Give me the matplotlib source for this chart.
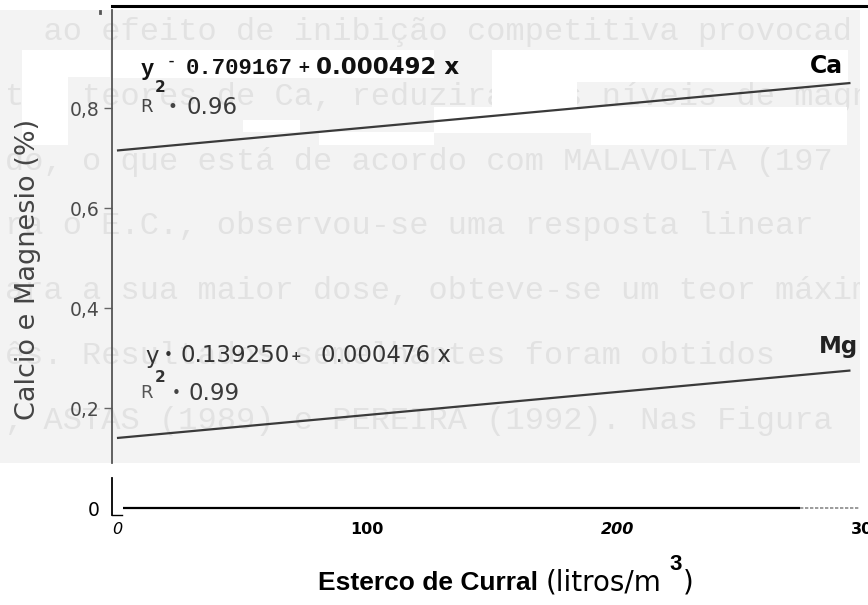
import matplotlib
matplotlib.use('Agg')
import matplotlib.pyplot as plt
from matplotlib.patches import Rectangle

# valores
dose = [0, 293]                     # esterco de curral (litros/m3)
teor_ca = [0.715, 0.85]             # calcio (%)
teor_mg = [0.14, 0.275]             # magnesio (%)
xticks = [0, 100, 200, 300]
xtick_labels = ['0', '100', '200', '300']
yticks = [0, 0.2, 0.4, 0.6, 0.8]
ytick_labels = ['0', '0,2', '0,4', '0,6', '0,8']
r2_ca = '0.96'
r2_mg = '0.99'

# texto do verso da pagina (aparece apagado no scan)
texto_fundo = [
    '  ao efeito de inibição competitiva provocad',
    'tos teores de Ca, reduziram os níveis de magné',
    'do, o que está de acordo com MALAVOLTA (197',
    'ra o E.C., observou-se uma resposta linear',
    'ara a sua maior dose, obteve-se um teor máxim',
    'ês. Resultados semelhantes foram obtidos',
    ', ASTAS (1989) e PEREIRA (1992). Nas Figura',
]

W, H = 868, 605


def fp(x, y):
    # pixel -> coordenadas da figura
    return x / W, 1 - y / H


fig = plt.figure(figsize=(W / 100, H / 100), dpi=100)

# fundo cinza do scan e remendos brancos
fig.add_artist(Rectangle(fp(0, 463), 860 / W, (463 - 10) / H, transform=fig.transFigure,
                         facecolor='#f3f3f3', edgecolor='none', zorder=-3))
for i, linha in enumerate(texto_fundo):
    fig.text(*fp(5, 32 + i * 64.8), linha, family='Liberation Mono', fontsize=23,
             color='#e2e2e2', va='center', ha='left', zorder=-2)
remendos = [(22, 50, 68, 145), (68, 50, 110, 77), (113, 50, 434, 78),
            (492, 50, 577, 107), (577, 50, 848, 82), (243, 120, 300, 132),
            (319, 132, 434, 145), (434, 107, 591, 133), (591, 107, 847, 145),
            (860, 10, 868, 463)]
for a, b, c, d in remendos:
    fig.add_artist(Rectangle(fp(a, d), (c - a) / W, (d - b) / H, transform=fig.transFigure,
                             facecolor='white', edgecolor='none', zorder=-1))

ax = fig.add_axes([112 / W, 1 - 515 / H, (W - 112) / W, (515 - 6) / H])
ax.patch.set_alpha(0)
ax.set_xlim(-1.98, 296.8)
ax.set_ylim(-0.014, 1.004)

ax.plot(dose, teor_ca, color='#3a3a3a', lw=1.6, solid_capstyle='butt')
ax.plot(dose, teor_mg, color='#3a3a3a', lw=1.6, solid_capstyle='butt')

# eixos
for s in ['right', 'bottom']:
    ax.spines[s].set_visible(False)
ax.spines['top'].set_color('black')
ax.spines['top'].set_linewidth(2.2)
ax.spines['left'].set_color('#555555')
ax.spines['left'].set_linewidth(1.3)
ax.spines['left'].set_bounds(0.09, 0.996)
ax.plot([0, 0], [0.06, -0.013], transform=ax.get_yaxis_transform(), color='black',
        lw=1.3, clip_on=False)
ax.plot([-1.98, 2.0], [-0.013, -0.013], color='black', lw=1.0, clip_on=False)
ax.hlines(0, 2.4, 273, color='black', lw=1.6)
ax.hlines(0, 273, 297, color='#8a8a8a', lw=1.2, linestyles=(0, (2, 1)))

ax.set_yticks(yticks)
ax.set_yticklabels(ytick_labels)
ax.tick_params(axis='y', length=6, width=1, color='#666666', pad=3,
               labelsize=13.5, labelcolor='#4a4a4a')
ax.yaxis.get_major_ticks()[0].tick1line.set_visible(False)
ax.get_yticklabels()[0].set_color('black')

ax.set_xticks(xticks)
ax.set_xticklabels(xtick_labels)
ax.tick_params(axis='x', length=0, pad=5, labelsize=11.5)
for i, lab in enumerate(ax.get_xticklabels()):
    lab.set_fontweight('normal' if i == 0 else 'bold')
    if i in (0, 2):
        lab.set_fontstyle('italic')

# equacao Ca
fig.text(*fp(141, 70), 'y', family='Liberation Mono', weight='bold', fontsize=16,
         va='center', color='#111111')
fig.text(*fp(167, 61), '-', family='Liberation Mono', weight='bold', fontsize=11,
         va='center', color='#111111')
fig.text(*fp(186, 68), '0.709167', family='Liberation Mono', weight='bold', fontsize=16,
         va='center', color='#111111')
fig.text(*fp(297, 68), '+', weight='bold', fontsize=11, va='center', color='#111111')
fig.text(*fp(316, 68), '0.000492 x', weight='bold', fontsize=16.5, va='center',
         color='#111111')
fig.text(*fp(140, 107), 'R', fontsize=13, va='center', color='#444444')
fig.text(*fp(155, 88), '2', weight='bold', fontsize=11, va='center', color='#222222')
fig.text(*fp(168, 107), '•', fontsize=12, va='center', color='#444444')
fig.text(*fp(186, 107), r2_ca, fontsize=16.5, va='center', color='#3a3a3a')
fig.text(*fp(810, 66), 'Ca', weight='bold', fontsize=17, va='center', color='black')

# equacao Mg
fig.text(*fp(145, 356), 'y', fontsize=16.5, va='center', color='#333333')
fig.text(*fp(164, 356), '•', fontsize=11, va='center', color='#333333')
fig.text(*fp(181, 356), '0.139250', fontsize=16.5, va='center', color='#333333')
fig.text(*fp(291, 356), '+', weight='bold', fontsize=9, va='center', color='#333333')
fig.text(*fp(321, 356), '0.000476 x', fontsize=16.5, va='center', color='#333333')
fig.text(*fp(140, 393), 'R', fontsize=13, va='center', color='#555555')
fig.text(*fp(155, 377), '2', weight='bold', fontsize=11, va='center', color='#333333')
fig.text(*fp(172, 393), '•', fontsize=11, va='center', color='#444444')
fig.text(*fp(189, 393), r2_mg, fontsize=16.5, va='center', color='#3a3a3a')
fig.text(*fp(819, 347), 'Mg', weight='bold', fontsize=16.5, va='center', color='#222222')

# rotulo do eixo y
fig.text(*fp(28, 269), 'Calcio e Magnesio (%)', rotation=90, fontsize=19.5,
         color='#444444', ha='center', va='center')

# rotulo do eixo x, montado em pedacos
renderer = fig.canvas.get_renderer()
partes = [('Esterco de Curral', 'Liberation Sans', 'bold', 19, 583, 8),
          ('(litros/m', 'DejaVu Sans', 'normal', 20, 583, 8),
          ('3', 'Liberation Sans', 'bold', 16, 564, 1),
          (')', 'DejaVu Sans', 'normal', 20, 583, 0)]
x = 318
for txt, fam, peso, tam, yy, gap in partes:
    t = fig.text(*fp(x, yy), txt, family=fam, weight=peso,
                 fontsize=tam, va='center', ha='left', color='black')
    bb = t.get_window_extent(renderer)
    x += bb.width + gap

fig.add_artist(plt.Line2D([fp(100, 12)[0]] * 2, [fp(0, 11)[1], fp(0, 13)[1]],
                          color='#555555', lw=2))

fig.savefig('out.png', dpi=100)
